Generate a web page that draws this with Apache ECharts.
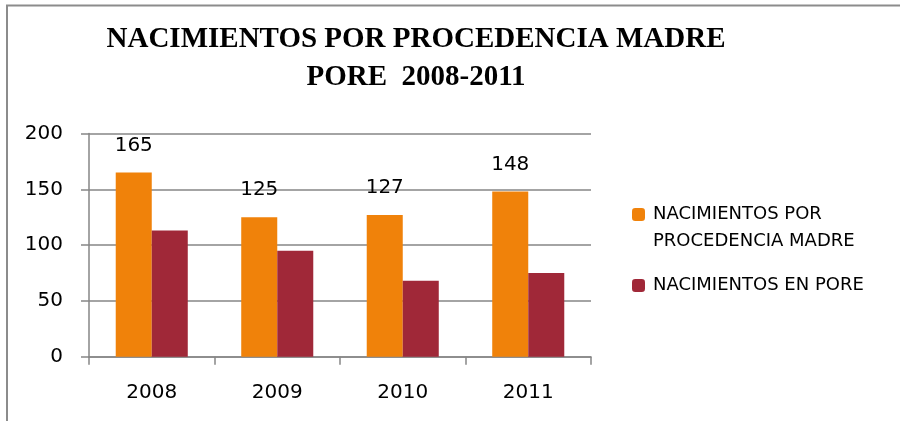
<!DOCTYPE html>
<html>
<head>
<meta charset="utf-8">
<script src="https://cdn.jsdelivr.net/npm/echarts@6/dist/echarts.min.js"></script>
<style>
html,body{margin:0;padding:0;background:#fff;}
#main{width:900px;height:421px;}
</style>
</head>
<body>
<div id="main"></div>
<script>
var years = ['2008', '2009', '2010', '2011'];
var procedencia = [165, 125, 127, 148];
var enPore = [113, 95, 68, 75];
var serieNames = ['NACIMIENTOS POR\nPROCEDENCIA MADRE', 'NACIMIENTOS EN PORE'];
var yTicks = [0, 50, 100, 150, 200];

var chart = echarts.init(document.getElementById('main'));
var txt = {fontFamily: 'DejaVu Sans', color: '#000'};

chart.setOption({
	animation: false,
	title: {
		text: 'NACIMIENTOS POR PROCEDENCIA MADRE\nPORE  2008-2011',
		left: 411,
		textAlign: 'center',
		top: 16,
		textStyle: {
			fontFamily: 'Liberation Serif',
			fontWeight: 'bold',
			fontSize: 29,
			lineHeight: 38,
			color: '#000'
		}
	},
	graphic: [{
		type: 'polyline',
		silent: true,
		shape: {points: [[7, 421], [7, 5.5], [900, 5.5]]},
		style: {stroke: '#8c8c8c', lineWidth: 2, fill: null}
	}],
	legend: {
		orient: 'vertical',
		left: 632,
		top: 174,
		padding: 0,
		itemWidth: 13,
		itemHeight: 13,
		itemGap: 17,
		data: serieNames,
		textStyle: {
			fontFamily: 'DejaVu Sans',
			fontSize: 18,
			lineHeight: 27,
			padding: [0, 0, 0, 3],
			color: '#000',
			rich: {}
		}
	},
	grid: {left: 89, right: 309, top: 133.5, bottom: 64.3},
	xAxis: {
		type: 'category',
		data: years,
		axisLine: {lineStyle: {color: '#868686', width: 1.5}},
		axisTick: {show: true, length: 8, lineStyle: {color: '#868686', width: 1.5}},
		axisLabel: Object.assign({fontSize: 20, margin: 26}, txt)
	},
	yAxis: {
		type: 'value',
		min: yTicks[0],
		max: yTicks[yTicks.length - 1],
		interval: 50,
		axisLine: {show: true, lineStyle: {color: '#868686', width: 1.5}},
		axisTick: {show: true, length: 8, lineStyle: {color: '#868686', width: 1.5}},
		splitLine: {lineStyle: {color: '#868686', width: 1.5}},
		axisLabel: Object.assign({fontSize: 20, margin: 26}, txt)
	},
	series: [{
		name: serieNames[0],
		type: 'bar',
		data: procedencia,
		barGap: '0%',
		barCategoryGap: '42.6%',
		itemStyle: {color: '#f0820a'},
		label: {
			show: true,
			position: 'top',
			distance: 17,
			fontFamily: 'DejaVu Sans',
			fontSize: 20,
			color: '#000'
		}
	}, {
		name: serieNames[1],
		type: 'bar',
		data: enPore,
		barGap: '0%',
		barCategoryGap: '42.6%',
		itemStyle: {color: '#a02838'}
	}]
});

// first legend label is two lines: pad its top so the icon lines up with the first line
chart.setOption({
	legend: {
		data: [
			{name: serieNames[0], textStyle: {padding: [27, 0, 0, 3]}},
			{name: serieNames[1]}
		]
	}
});
</script>
</body>
</html>
